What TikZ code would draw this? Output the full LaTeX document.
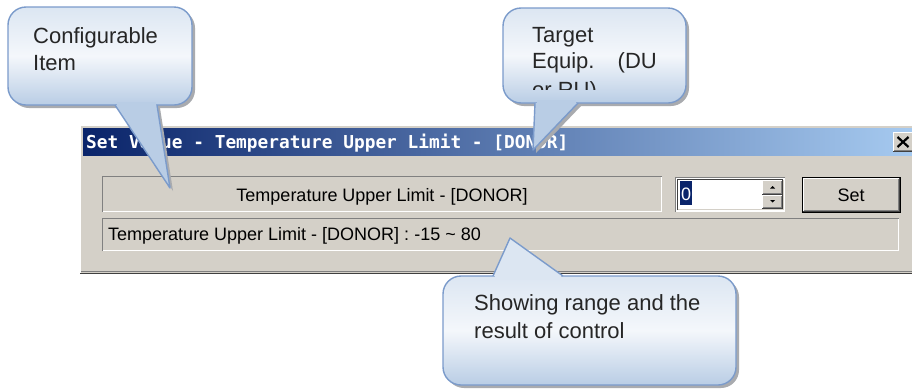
\documentclass[tikz,border=0pt]{standalone}
\usepackage{fontspec}
\setmainfont{Liberation Sans}
\newfontfamily\titlefont{DejaVu Sans Mono}
\definecolor{winbg}{HTML}{D4D0C8}
\definecolor{navy}{HTML}{0A246A}
\definecolor{titleright}{HTML}{A6CAF0}
\definecolor{cborder}{HTML}{7B9BCB}
\definecolor{ctop}{HTML}{DCE6F2}
\definecolor{cmid}{HTML}{F4F7FB}
\definecolor{cbot}{HTML}{B9CDE5}
\definecolor{dkgray}{HTML}{808080}
\definecolor{dkedge}{HTML}{404040}
\definecolor{shadowc}{HTML}{A9ABAF}
\newcommand\mySunken[4]{%
  \fill[winbg] (#1,#2) rectangle (#3,#4);
  \draw[dkgray] (#1+0.5,#4) -- (#1+0.5,#2+0.5) -- (#3,#2+0.5);
  \draw[white] (#1+1,#4-0.5) -- (#3-0.5,#4-0.5) -- (#3-0.5,#2+1);
}
\newcommand\myRaised[4]{%
  \fill[winbg] (#1,#2) rectangle (#3,#4);
  \draw[white] (#1+0.5,#4-1) -- (#1+0.5,#2+0.5) -- (#3-1,#2+0.5);
  \draw[dkedge] (#1,#4-0.5) -- (#3-0.5,#4-0.5) -- (#3-0.5,#2);
  \draw[dkgray] (#1+1,#4-1.5) -- (#3-1.5,#4-1.5) -- (#3-1.5,#2+1);
}
\tikzset{
  calloutbox/.style={draw=cborder, line width=1.4pt, rounded corners=18pt,
    top color=ctop, bottom color=cbot, middle color=cmid},
  calloutline/.style={draw=cborder, line width=1.4pt, line join=round},
  calloutshadow/.style={fill=shadowc},
  ctext/.style={font=\fontsize{22}{27}\selectfont, anchor=base west, inner sep=0pt, text=black!85},
  ftext/.style={font=\fontsize{18}{21}\selectfont, inner sep=0pt, anchor=base},
}
\begin{document}
\begin{tikzpicture}[x=1pt,y=-1pt]
\useasboundingbox (0,0) rectangle (912,389);
\fill[white] (0,0) rectangle (912,389);

% ---------------- dialog window ----------------
\fill[winbg] (80,125) rectangle (912,274);
\draw[white] (80.5,273) -- (80.5,125.5) -- (912,125.5);
\draw[dkgray] (81,271.5) -- (912,271.5);
\draw[dkedge, line width=1.3pt] (80,273.3) -- (912,273.3);
\shade[left color=navy, right color=titleright] (83,128) rectangle (912,155);
\node[anchor=base west, inner sep=0pt, text=white,
      font=\titlefont\bfseries\fontsize{17.8}{20}\selectfont] (title) at (86,148)
      {Set Value - Temperature Upper Limit - [DONOR]};
% close button
\myRaised{893}{132}{914}{152}
\draw[black, line width=2.2pt] (897.5,137) -- (908.5,147) (897.5,147) -- (908.5,137);

% label field
\mySunken{102}{176}{662}{212}
\node[ftext] (f1text) at (382,201) {Temperature Upper Limit - [DONOR]};
% status field
\mySunken{102}{218}{899}{251}
\node[ftext, anchor=base west] (f2text) at (108,240)
      {Temperature Upper Limit - [DONOR] : -15 \textasciitilde{} 80};

% spin box
\fill[white] (675,177) rectangle (785,212);
\draw[dkgray] (675.5,212) -- (675.5,177.5) -- (785,177.5);
\draw[white] (676,211.5) -- (784.5,211.5) -- (784.5,178);
\draw[dkedge] (677.5,210) -- (677.5,179.5) -- (783,179.5);
\draw[winbg] (678,209.5) -- (783.5,209.5) -- (783.5,180);
\fill[navy] (680,181) rectangle (692,205);
\node[ftext, text=white] (spinval) at (686,200) {0};
\myRaised{762}{180}{783}{194.5}
\myRaised{762}{194.5}{783}{209}
\fill[black] (770,188.5) -- (775,188.5) -- (772.5,186) -- cycle;
\fill[black] (770,200) -- (775,200) -- (772.5,202.5) -- cycle;

% Set button
\fill[black] (802,177) rectangle (901,213);
\myRaised{803}{178}{900}{212}
\node[ftext] (setbtn) at (851,201) {Set};

% ---------------- callout 1 ----------------
\fill[calloutshadow, rounded corners=18pt] (11,10) rectangle (195,108);
\fill[calloutshadow] (118,108) -- (160,108) -- (173,191) -- cycle;
\draw[calloutbox] (8,7) rectangle (192,105);
\fill[cbot] (115,105) -- (157,105) -- (170,188) -- cycle;
\fill[cbot] (116.5,101.5) rectangle (155.5,107);
\draw[calloutline] (115,105) -- (170,188) -- (157,105);
\node[ctext] (c1a) at (33,43) {Configurable};
\node[ctext] (c1b) at (33,70) {Item};

% ---------------- callout 2 ----------------
\fill[calloutshadow, rounded corners=18pt] (506,11) rectangle (689,106);
\fill[calloutshadow] (538,106) -- (581,106) -- (536,153) -- cycle;
\draw[calloutbox] (503,8) rectangle (686,103);
\fill[cbot] (535,103) -- (578,103) -- (533,150) -- cycle;
\fill[cbot] (536.5,99.5) rectangle (576,105);
\draw[calloutline] (535,103) -- (533,150) -- (578,103);
\begin{scope}
  \clip (505,10) rectangle (684,89);
  \node[ctext] (c2a) at (532,42) {Target};
  \node[ctext] (c2b) at (532,68) {Equip.};
  \node[ctext, anchor=base east] (c2c) at (657,68) {(DU};
  \node[ctext] (c2d) at (532,97) {or RU)};
\end{scope}

% ---------------- callout 3 ----------------
\fill[calloutshadow, rounded corners=18pt] (446,279) rectangle (739,388);
\draw[calloutbox] (443,276) rectangle (736,385);
\fill[ctop] (493,276) -- (563,276) -- (510,238) -- cycle;
\fill[ctop] (495,273.5) rectangle (561,279.5);
\draw[calloutline] (493,276) -- (510,238) -- (563,276);
\node[ctext] (c3a) at (474,310) {Showing range and the};
\node[ctext] (c3b) at (474,338) {result of control};
\end{tikzpicture}
\end{document}
